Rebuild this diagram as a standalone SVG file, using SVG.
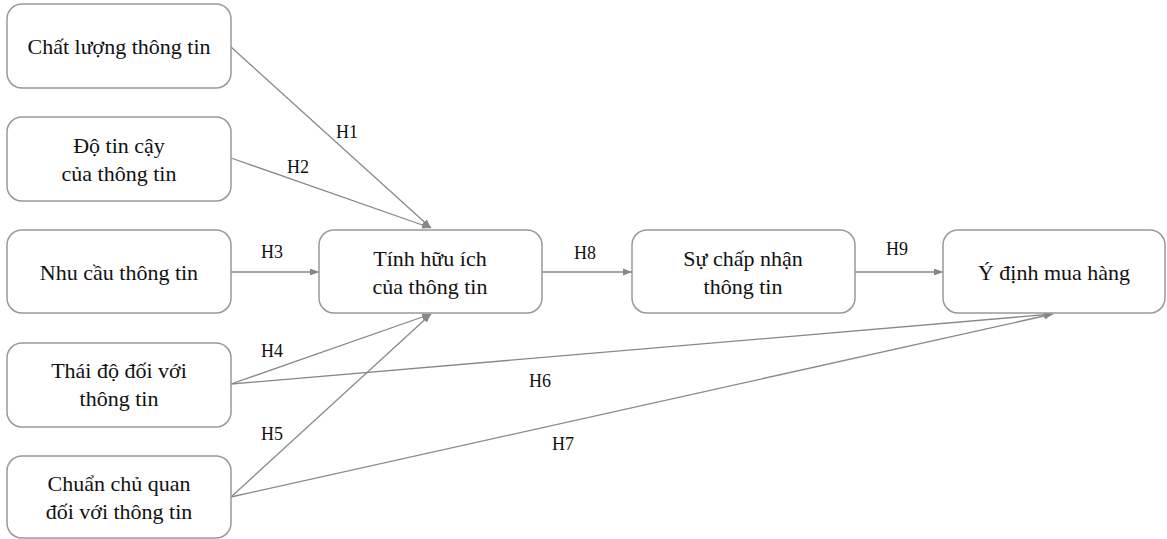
<svg xmlns="http://www.w3.org/2000/svg" width="1167" height="539" viewBox="0 0 1167 539">
<style>
.box{fill:#fff;stroke:#999;stroke-width:1.5}
.t{font-family:"Liberation Serif","Times New Roman",serif;font-size:22px;fill:#111;text-anchor:middle}
.l{font-family:"Liberation Serif","Times New Roman",serif;font-size:18px;fill:#111;text-anchor:middle}
.c{stroke:#888;stroke-width:1.3;fill:none;marker-end:url(#ah)}
</style>
<defs>
<marker id="ah" viewBox="0 0 10 10" refX="10" refY="5" markerWidth="9" markerHeight="9" markerUnits="userSpaceOnUse" orient="auto">
<path d="M0,1 L10,5 L0,9 z" fill="#888"/>
</marker>
</defs>
<rect width="1167" height="539" fill="#fff"/>
<g id="connectors">
<line class="c" x1="231" y1="47" x2="431" y2="228"/>
<line class="c" x1="231" y1="158" x2="431" y2="228"/>
<line class="c" x1="231" y1="272" x2="319" y2="272"/>
<line class="c" x1="231" y1="384" x2="431" y2="314"/>
<line class="c" x1="231" y1="497" x2="431" y2="314"/>
<line class="c" x1="231" y1="384" x2="1053" y2="314"/>
<line class="c" x1="231" y1="497" x2="1053" y2="314"/>
<line class="c" x1="542" y1="272" x2="632" y2="272"/>
<line class="c" x1="855" y1="272" x2="943" y2="272"/>
<text class="l" x="347" y="138">H1</text>
<text class="l" x="298" y="173">H2</text>
<text class="l" x="272" y="258">H3</text>
<text class="l" x="272" y="357">H4</text>
<text class="l" x="272" y="440">H5</text>
<text class="l" x="540" y="387">H6</text>
<text class="l" x="563" y="450">H7</text>
<text class="l" x="585" y="259">H8</text>
<text class="l" x="897" y="255">H9</text>
</g>
<g id="n1"><rect class="box" x="7" y="4" width="224" height="84" rx="15"/><text class="t" x="119" y="54">Chất lượng thông tin</text></g>
<g id="n2"><rect class="box" x="7" y="117" width="224" height="84" rx="15"/><text class="t" x="119" y="153">Độ tin cậy</text><text class="t" x="119" y="181">của thông tin</text></g>
<g id="n3"><rect class="box" x="7" y="230" width="224" height="83" rx="15"/><text class="t" x="119" y="280">Nhu cầu thông tin</text></g>
<g id="n4"><rect class="box" x="7" y="343" width="224" height="84" rx="15"/><text class="t" x="119" y="378">Thái độ đối với</text><text class="t" x="119" y="406">thông tin</text></g>
<g id="n5"><rect class="box" x="7" y="456" width="224" height="82" rx="15"/><text class="t" x="119" y="491">Chuẩn chủ quan</text><text class="t" x="119" y="519">đối với thông tin</text></g>
<g id="n6"><rect class="box" x="319" y="230" width="223" height="83" rx="15"/><text class="t" x="430" y="266">Tính hữu ích</text><text class="t" x="430" y="294">của thông tin</text></g>
<g id="n7"><rect class="box" x="632" y="230" width="223" height="83" rx="15"/><text class="t" x="743" y="266">Sự chấp nhận</text><text class="t" x="743" y="294">thông tin</text></g>
<g id="n8"><rect class="box" x="943" y="230" width="222" height="83" rx="15"/><text class="t" x="1054" y="280">Ý định mua hàng</text></g>
</svg>
